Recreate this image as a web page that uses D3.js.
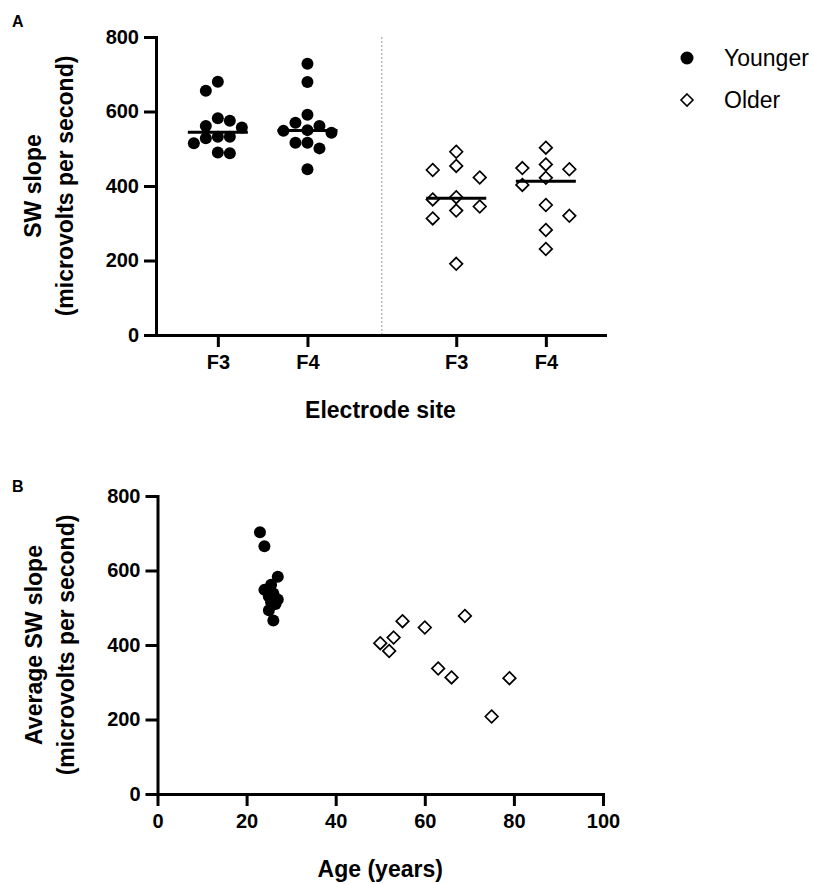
<!DOCTYPE html>
<html>
<head>
<meta charset="utf-8">
<script src="https://cdn.jsdelivr.net/npm/d3@7"></script>
<style>
  body { margin: 0; background: #fff; }
  svg text { font-family: "Liberation Sans", Arial, Helvetica, sans-serif; }
  .axis path, .axis line { stroke: #000; stroke-width: 3; }
  .axis path { stroke-linecap: square; }
  .axis text { font-size: 20px; font-weight: bold; fill: #000; }
  .title { font-size: 23px; font-weight: bold; }
</style>
</head>
<body>
<svg id="chart" width="814" height="884"></svg>
<script>
// panel A: SW slope per electrode site
const sites = ["F3", "F4"];
const groups = ["Younger", "Older"];
const youngF3 = [680, 656, 582, 575, 561, 557, 532, 532, 528, 515, 490, 488];
const youngF4 = [728, 679, 591, 570, 561, 550, 548, 543, 516, 516, 501, 445];
const olderF3 = [492, 454, 443, 423, 370, 364, 345, 334, 313, 191];
const olderF4 = [503, 458, 448, 445, 422, 403, 349, 320, 282, 231];

// panel B: average slope vs age
const youngAge = [23, 24, 27, 24, 25.5, 26, 25, 27, 25.5, 26.5, 25, 26];
const youngAvg = [703, 665, 583, 548, 562, 538, 530, 522, 515, 510, 493, 466];
const olderAge = [55, 60, 69, 53, 50, 52, 63, 66, 79, 75];
const olderAvg = [464, 447, 478, 420, 405, 384, 337, 313, 311, 208];

const yTicks = [0, 200, 400, 600, 800];
const ageTicks = [0, 20, 40, 60, 80, 100];

const svg = d3.select('#chart');
const diamond = r => `M0,${-r}L${r},0L0,${r}L${-r},0Z`;

// simple beeswarm: spread points sideways when they would overlap
function swarm(vals, y, step, minDist) {
  const order = vals.map((v, i) => i).sort((a, b) => vals[b] - vals[a]);
  const placed = [];
  const off = new Array(vals.length).fill(0);
  let left = 0, right = 0;
  order.forEach(i => {
    const py = y(vals[i]);
    for (let k = 0; k < 10; k++) {
      const cands = k === 0 ? [0] : (left <= right ? [-k, k] : [k, -k]);
      const c = cands.find(c => placed.every(p => Math.hypot((p.c - c) * step, p.y - py) >= minDist));
      if (c !== undefined) {
        off[i] = c * step;
        placed.push({ c, y: py });
        if (c < 0) left++;
        else if (c > 0) right++;
        break;
      }
    }
  });
  return off;
}

// ---------- panel A ----------
const xA = d3.scaleLinear().domain([0.31, 5.32]).range([156, 605]);
const yA = d3.scaleLinear().domain([0, 800]).range([335, 37]);
const posOf = (gi, si) => 1 + gi * 2.66 + si;
const sepPos = 2.83;

const gA = svg.append('g');

gA.append('line')
  .attr('x1', xA(sepPos)).attr('x2', xA(sepPos))
  .attr('y1', yA(800)).attr('y2', yA(0))
  .attr('stroke', '#999').attr('stroke-width', 1).attr('stroke-dasharray', '2,2');

gA.append('g').attr('class', 'axis')
  .attr('transform', `translate(0,${yA(0)})`)
  .call(d3.axisBottom(xA)
    .tickValues([posOf(0, 0), posOf(0, 1), posOf(1, 0), posOf(1, 1)])
    .tickFormat((d, i) => sites[i % 2])
    .tickSize(12).tickSizeOuter(0).tickPadding(8));

gA.append('g').attr('class', 'axis')
  .attr('transform', `translate(${xA.range()[0]},0)`)
  .call(d3.axisLeft(yA).tickValues(yTicks).tickSize(12).tickSizeOuter(0).tickPadding(5));

const setsA = [
  { g: 0, s: 0, vals: youngF3 },
  { g: 0, s: 1, vals: youngF4 },
  { g: 1, s: 0, vals: olderF3 },
  { g: 1, s: 1, vals: olderF4 },
];

setsA.forEach(set => {
  const cx = xA(posOf(set.g, set.s));
  const young = set.g === 0;
  const offs = swarm(set.vals, yA, young ? 12 : 23.5, young ? 11.5 : 12);
  const pts = gA.append('g').selectAll('path').data(set.vals).join('path')
    .attr('transform', (d, i) => `translate(${cx + offs[i]},${yA(d)})`);
  if (young) {
    pts.attr('d', d3.symbol(d3.symbolCircle, Math.PI * 6 * 6)).attr('fill', '#000');
  } else {
    pts.attr('d', diamond(6.3)).attr('fill', '#fff').attr('stroke', '#000').attr('stroke-width', 1.7);
  }
  const med = d3.median(set.vals);
  gA.append('line')
    .attr('x1', cx - 30).attr('x2', cx + 30)
    .attr('y1', yA(med)).attr('y2', yA(med))
    .attr('stroke', '#000').attr('stroke-width', 3);
});

gA.append('text').attr('class', 'title')
  .attr('x', (xA.range()[0] + xA.range()[1]) / 2).attr('y', 418)
  .attr('text-anchor', 'middle').text('Electrode site');

const yTitleA = gA.append('text').attr('class', 'title')
  .attr('transform', `translate(41,${(yA(0) + yA(800)) / 2}) rotate(-90)`)
  .attr('text-anchor', 'middle');
yTitleA.append('tspan').attr('x', 0).attr('dy', 0).text('SW slope');
yTitleA.append('tspan').attr('x', 0).attr('dy', 32).text('(microvolts per second)');

svg.append('text').attr('x', 12).attr('y', 27)
  .attr('font-size', 16).attr('font-weight', 'bold').text('A');

// legend
const leg = svg.append('g').attr('transform', 'translate(687,58)');
leg.append('circle').attr('r', 6.5).attr('fill', '#000');
leg.append('text').attr('x', 37).attr('y', 8).attr('font-size', 23).text(groups[0]);
leg.append('path').attr('d', diamond(6)).attr('transform', 'translate(0,42)')
  .attr('fill', '#fff').attr('stroke', '#000').attr('stroke-width', 1.6);
leg.append('text').attr('x', 37).attr('y', 50).attr('font-size', 23).text(groups[1]);

// ---------- panel B ----------
const xB = d3.scaleLinear().domain([0, 100]).range([157.5, 603]);
const yB = d3.scaleLinear().domain([0, 800]).range([794, 496]);
const gB = svg.append('g');

gB.append('g').attr('class', 'axis')
  .attr('transform', `translate(0,${yB(0)})`)
  .call(d3.axisBottom(xB).tickValues(ageTicks).tickSize(12).tickSizeOuter(0).tickPadding(8));

gB.append('g').attr('class', 'axis')
  .attr('transform', `translate(${xB(0)},0)`)
  .call(d3.axisLeft(yB).tickValues(yTicks).tickSize(12).tickSizeOuter(0).tickPadding(5));

gB.append('g').selectAll('circle').data(youngAge).join('circle')
  .attr('cx', d => xB(d))
  .attr('cy', (d, i) => yB(youngAvg[i]))
  .attr('r', 6).attr('fill', '#000');

gB.append('g').selectAll('path').data(olderAge).join('path')
  .attr('d', diamond(6.3))
  .attr('transform', (d, i) => `translate(${xB(d)},${yB(olderAvg[i])})`)
  .attr('fill', '#fff').attr('stroke', '#000').attr('stroke-width', 1.7);

gB.append('text').attr('class', 'title')
  .attr('x', (xB.range()[0] + xB.range()[1]) / 2).attr('y', 877)
  .attr('text-anchor', 'middle').text('Age (years)');

const yTitleB = gB.append('text').attr('class', 'title')
  .attr('transform', `translate(42,${(yB(0) + yB(800)) / 2}) rotate(-90)`)
  .attr('text-anchor', 'middle');
yTitleB.append('tspan').attr('x', 0).attr('dy', 0).text('Average SW slope');
yTitleB.append('tspan').attr('x', 0).attr('dy', 32).text('(microvolts per second)');

svg.append('text').attr('x', 12).attr('y', 492)
  .attr('font-size', 16).attr('font-weight', 'bold').text('B');
</script>
</body>
</html>
